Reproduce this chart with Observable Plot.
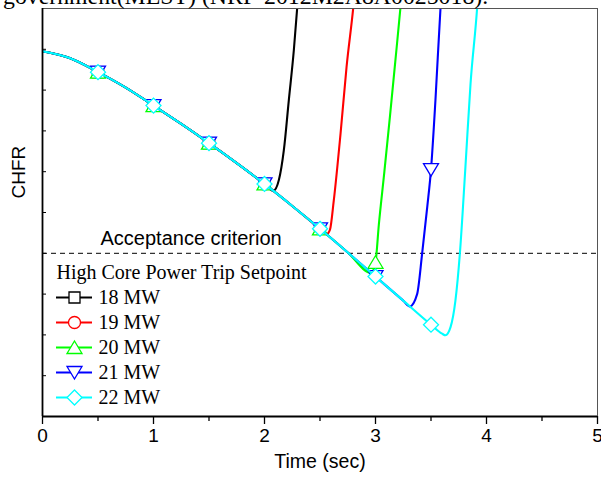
<!DOCTYPE html>
<html><head><meta charset="utf-8">
<script src="https://cdn.jsdelivr.net/npm/d3@7"></script>
<script src="https://cdn.jsdelivr.net/npm/@observablehq/plot@0.6"></script>
<style>
html,body{margin:0;padding:0;background:#fff;}
#wrap{position:relative;width:601px;height:479px;overflow:hidden;}
#wrap svg{position:absolute;left:0;top:0;overflow:hidden;}
</style></head><body><div id="wrap"></div>
<script>
// ---- data (CHFR in arbitrary units; axis has no labels) ----
const commonTime = [0,0.25,0.5,0.75,1,1.25,1.5,1.75,2,2.25,2.5,2.75,3,3.25,3.5];
const commonCHFR = [8.95,8.78,8.44,8.06,7.62,7.17,6.70,6.21,5.70,5.16,4.60,4.02,3.43,2.84,2.25];

const setpoints = ["18 MW","19 MW","20 MW","21 MW","22 MW"];
const colors = ["#000000","#ff0000","#00ff00","#0000ff","#00ffff"];
const symbolNames = ["square","circle","triangle","triangleDown","diamond"];
// last common-trajectory time for each case
const splitTime = [2.0, 2.5, 2.75, 3.25, 3.5];

const branchTime18 = [2.08,2.13,2.174,2.219,2.264,2.295,2.31];
const branchCHFR18 = [5.53,5.80,6.52,7.75,8.97,10.03,10.6];
const branchTime19 = [2.56,2.59,2.624,2.685,2.739,2.80,2.82];
const branchCHFR19 = [4.47,4.58,5.29,6.93,8.56,10.03,10.6];
const branchTime20 = [2.96,3.0,3.03,3.08,3.13,3.18,3.225,3.24];
const branchCHFR20 = [3.52,3.78,4.70,6.00,7.35,8.75,10.03,10.5];
const branchTime21 = [3.31,3.375,3.42,3.466,3.5,3.54,3.586,3.60];
const branchCHFR21 = [2.70,3.00,3.99,5.13,6.05,7.75,10.03,10.6];
const branchTime22 = [3.6,3.63,3.676,3.72,3.76,3.81,3.856,3.916,3.93];
const branchCHFR22 = [2.03,1.99,2.19,2.84,3.99,6.11,8.15,10.03,10.6];

const branchTimes = [branchTime18,branchTime19,branchTime20,branchTime21,branchTime22];
const branchCHFRs = [branchCHFR18,branchCHFR19,branchCHFR20,branchCHFR21,branchCHFR22];

const criterion = [4.0];
const criterionLabel = ["Acceptance criterion"];
const xDomain = [0, 5];
const yDomain = [0, 10];
const xMajorTicks = [0,1,2,3,4,5];
const xMinorTicks = [0.5,1.5,2.5,3.5,4.5];
const yTicks = [1,2,3,4,5,6,7,8,9];
const xLabel = "Time (sec)";
const yLabel = "CHFR";
const legendTitle = "High Core Power Trip Setpoint";
const topText = "government(MEST) (NRF-2012M2A8A0025018).";

// ---- build series ----
const series = setpoints.map((name, i) => {
  const pts = [];
  commonTime.forEach((t, j) => { if (t <= splitTime[i]) pts.push({t, v: commonCHFR[j], name}); });
  branchTimes[i].forEach((t, j) => pts.push({t, v: branchCHFRs[i][j], name}));
  return pts;
});

// ---- symbols ----
function polySym(points) {
  return {draw(ctx, size) {
    const k = Math.sqrt(size / Math.PI) / 6;
    points.forEach(([x, y], i) => i ? ctx.lineTo(x * k, y * k) : ctx.moveTo(x * k, y * k));
    ctx.closePath();
  }};
}
const symbols = {
  square: polySym([[-5.5,-5.5],[5.5,-5.5],[5.5,5.5],[-5.5,5.5]]),
  circle: "circle",
  triangle: polySym([[0,-6.5],[7.5,6],[-7.5,6]]),
  triangleDown: polySym([[0,6.5],[7.5,-6],[-7.5,-6]]),
  diamond: polySym([[0,-7.5],[7.5,0],[0,7.5],[-7.5,0]])
};

const sans = "'Liberation Sans', Arial, sans-serif";
const serif = "'Liberation Serif', 'Times New Roman', serif";

const marks = [];
marks.push(Plot.ruleY(criterion, {stroke: "#000", strokeWidth: 1, strokeDasharray: "5,4"}));
marks.push(Plot.text(criterionLabel, {y: () => criterion[0], text: d => d, frameAnchor: "left",
  dx: 58, dy: -15, textAnchor: "start", fontSize: 20, fill: "#000"}));
series.forEach((pts, i) => {
  marks.push(Plot.line(pts, {x: "t", y: "v", stroke: colors[i], strokeWidth: 2.1, curve: "monotone-x", clip: true}));
  marks.push(Plot.dot(pts.filter(d => d.t > 0 && Number.isInteger(d.t * 2) && d.v <= yDomain[1]),
    {x: "t", y: "v", r: 6, symbol: symbols[symbolNames[i]], stroke: colors[i], fill: "#fff", strokeWidth: 1.3}));
});
marks.push(Plot.frame({stroke: "#555", strokeWidth: 1}));
marks.push(Plot.ruleX([xDomain[0]], {stroke: "#000", strokeWidth: 1.8}));
marks.push(Plot.ruleY([yDomain[0]], {stroke: "#000", strokeWidth: 1.8}));
marks.push(Plot.axisX(xMajorTicks, {tickSize: 8, tickPadding: 4, fontSize: 19, label: null, tickFormat: d => String(d), strokeWidth: 1.3}));
marks.push(Plot.axisX(xMinorTicks, {tickSize: 5, label: null, tickFormat: () => "", strokeWidth: 1.3}));
marks.push(Plot.axisY(yTicks, {tickSize: 4, dx: 4, label: null, tickFormat: () => "", strokeWidth: 1}));
marks.push(Plot.text([xLabel], {text: d => d, frameAnchor: "bottom", dy: 51, fontSize: 19.5, fill: "#000"}));
marks.push(Plot.text([yLabel], {text: d => d, frameAnchor: "left", rotate: -90, dx: -24, dy: -14, fontSize: 19, fill: "#000"}));

const chart = Plot.plot({
  width: 601, height: 479,
  marginLeft: 42, marginRight: 4, marginTop: 8, marginBottom: 63,
  x: {domain: xDomain},
  y: {domain: yDomain},
  style: {fontFamily: sans, fontSize: "19px", color: "#000", background: "transparent"},
  marks
});

// ---- legend overlay ----
const legendRows = ["title", ...setpoints];
const legendData = setpoints.map((name, i) => ({name, i}));
const legend = Plot.plot({
  width: 601, height: 479, margin: 0,
  x: {domain: [0, 1], range: [56, 92], axis: null},
  y: {type: "point", domain: legendRows, range: [271, 397], padding: 0, axis: null},
  style: {fontFamily: serif, fontSize: "20px", color: "#000", background: "transparent"},
  marks: [
    Plot.text([legendTitle], {x: () => 0, y: () => "title", text: d => d, textAnchor: "start", fontSize: 20, fontFamily: serif, fill: "#000"}),
    Plot.ruleY(legendData, {y: "name", x1: () => 0, x2: () => 1, stroke: d => colors[d.i], strokeWidth: 2.1}),
    ...legendData.map(d => Plot.dot([d], {x: () => 0.5, y: "name", r: 6, symbol: symbols[symbolNames[d.i]], stroke: colors[d.i], fill: "#fff", strokeWidth: 1.3})),
    Plot.text(legendData, {x: () => 1, y: "name", text: "name", dx: 6, textAnchor: "start", fontSize: 20, fontFamily: serif, fill: "#000"})
  ]
});
d3.select(legend).append("text")
  .attr("x", 3).attr("y", 3.5)
  .attr("text-anchor", "start")
  .attr("font-family", serif).attr("font-size", 23.8).attr("fill", "#000")
  .text(topText);

const wrap = document.getElementById("wrap");
wrap.appendChild(chart);
wrap.appendChild(legend);
</script></body></html>
